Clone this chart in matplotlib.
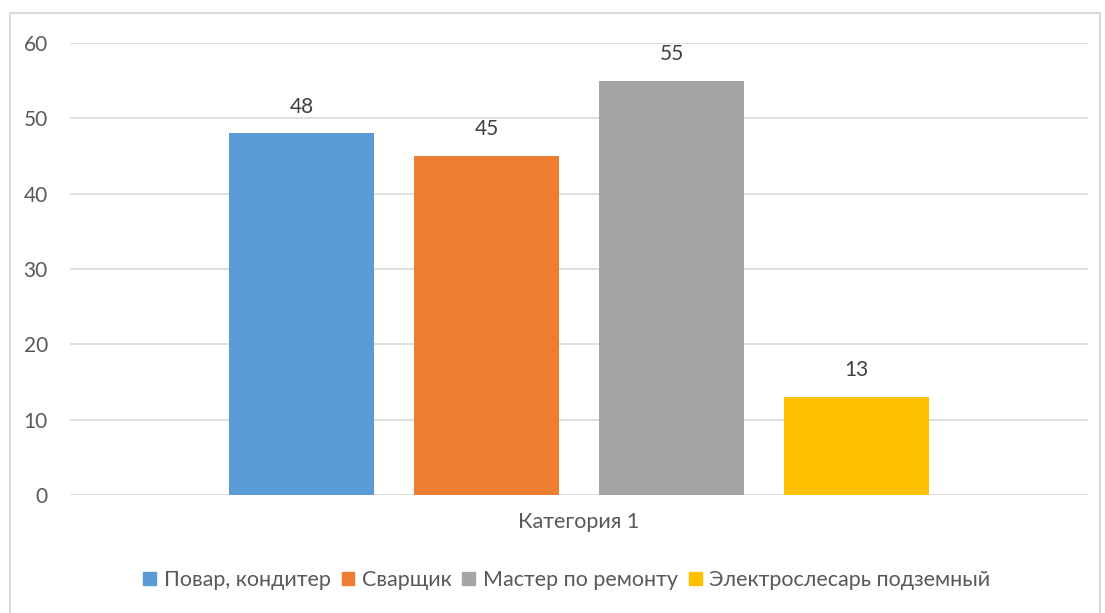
import matplotlib.pyplot as plt
from matplotlib.patches import Rectangle, Patch

plt.rcParams['font.family'] = ['Lato', 'DejaVu Sans']

category = 'Категория 1'
series = ['Повар, кондитер', 'Сварщик', 'Мастер по ремонту', 'Электрослесарь подземный']
values = [48, 45, 55, 13]
colors = ['#5b9bd5', '#ed7d31', '#a5a5a5', '#ffc000']

fig = plt.figure(figsize=(11.05, 6.13), dpi=100)
fig.patches.append(Rectangle((10 / 1105, -0.01), 1090 / 1105, 1 - 13 / 613 + 0.01,
                             transform=fig.transFigure, fill=False,
                             edgecolor='#d9d9d9', linewidth=1.5))

ax = fig.add_axes([70 / 1105, 1 - 495 / 613, 1018 / 1105, 452 / 613])

width = 145 / 1018
step = 185 / 1018
n = len(values)
for i, (name, v, c) in enumerate(zip(series, values, colors)):
    x = (i - (n - 1) / 2) * step
    ax.bar(x, v, width=width, color=c, label=name, zorder=3)
    ax.text(x, v + 2.2, str(v), ha='center', va='bottom', fontsize=15, color='#404040')

ax.set_xlim(-0.5, 0.5)
ax.set_ylim(0, 60)
ax.set_yticks(range(0, 61, 10))
ax.set_xticks([0])
ax.set_xticklabels([category])
ax.tick_params(axis='x', length=0, pad=12, labelsize=15.5, labelcolor='#595959')
ax.tick_params(axis='y', length=0, pad=16, labelsize=15, labelcolor='#595959')
ax.grid(axis='y', color='#d9d9d9', linewidth=1.2, zorder=0)
for s in ax.spines.values():
    s.set_visible(False)

handles = [Patch(color=c) for c in colors]
fig.legend(handles, series, loc='center', bbox_to_anchor=(0.513, 1 - 580 / 613),
           ncol=4, frameon=False, fontsize=15.5, handlelength=0.6, handleheight=0.6,
           handletextpad=0.35, columnspacing=0.5, labelcolor='#595959')

fig.savefig('out.png', dpi=100)
